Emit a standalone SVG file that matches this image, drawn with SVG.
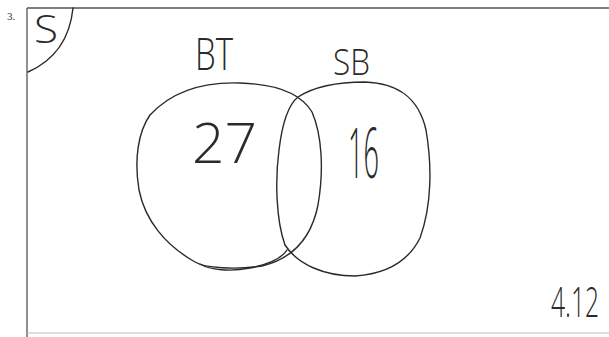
<svg xmlns="http://www.w3.org/2000/svg" width="609" height="337" viewBox="0 0 609 337">
<style>
.ln{fill:none;stroke:#2a2a2a;stroke-width:1.4;stroke-linecap:round;stroke-linejoin:round}
.fr{fill:none;stroke:#555;stroke-width:1.3}
.t{font-family:"Open Sans","Liberation Sans",Arial,sans-serif;fill:#2a2a2a;font-weight:300}
</style>
<rect width="609" height="337" fill="#ffffff"/>
<g id="frame">
<path class="fr" d="M27,8 L609,8 M27,8 L27,337"/>
<path d="M27,333 L609,333" fill="none" stroke="#bbb" stroke-width="1"/>
<path class="ln" d="M73,8 C70,38 55,60 28,72"/>
<text class="t" x="34" y="43" font-size="39" textLength="24" lengthAdjust="spacingAndGlyphs">S</text>
<text x="7" y="20" font-family="Liberation Serif,serif" font-size="11" fill="#333">3.</text>
</g>
<g id="connectors"></g>
<g id="set-bt">
<path class="ln" d="M150,115 C175,88 210,82 240,83 C275,84 300,92 312,112 C322,135 324,170 318,205 C312,235 295,258 262,266 C235,270 205,268 195,262 C165,245 145,220 139,190 C134,160 138,132 150,115 Z"/>
<path class="ln" d="M200,264 C210,270 230,272 250,268 C270,264 282,258 287,250"/>
<text class="t" x="195" y="70" font-size="44" textLength="38" lengthAdjust="spacingAndGlyphs">BT</text>
<text class="t" x="192" y="163" font-size="56" textLength="65" lengthAdjust="spacingAndGlyphs">27</text>
</g>
<g id="set-sb">
<path class="ln" d="M298,97 C315,86 340,82 365,82 C395,83 418,95 426,130 C432,165 432,205 420,238 C408,262 385,274 355,276 C325,276 298,265 285,245 C276,220 275,180 279,150 C282,125 288,105 298,97 Z"/>
<text class="t" x="333" y="75" font-size="36" textLength="37" lengthAdjust="spacingAndGlyphs">SB</text>
<text class="t" x="348" y="178" font-size="70" textLength="31" lengthAdjust="spacingAndGlyphs">16</text>
</g>
<g id="score">
<text class="t" x="551" y="317" font-size="42" textLength="48" lengthAdjust="spacingAndGlyphs">4.12</text>
</g>
</svg>
